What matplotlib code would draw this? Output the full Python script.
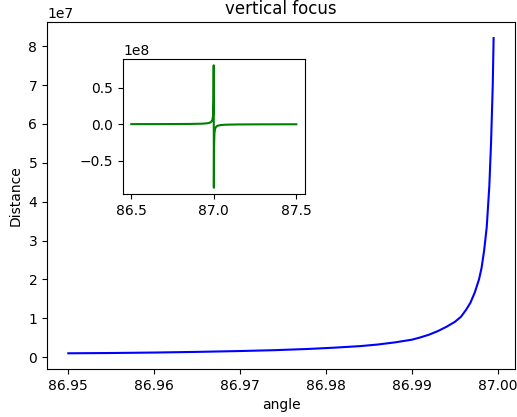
import numpy as np
import matplotlib
matplotlib.use('Agg')
import matplotlib.pyplot as plt
from matplotlib import ticker

# focus distance vs angle, close to the pole at 87 deg (distance in millions)
angle = [86.950, 86.955, 86.960, 86.965, 86.970, 86.974, 86.978, 86.981,
         86.984, 86.986, 86.988, 86.990, 86.991, 86.992, 86.993, 86.994,
         86.995, 86.9957, 86.9963, 86.9968, 86.9973, 86.9978, 86.9981,
         86.9984, 86.9987, 86.9990, 86.9992, 86.9994, 86.9995]
distance_m = [1.00, 1.07, 1.19, 1.36, 1.58, 1.80, 2.12, 2.45,
              2.85, 3.25, 3.80, 4.50, 5.10, 5.80, 6.70, 7.80,
              9.10, 10.4, 12.2, 14.0, 16.6, 20.0, 23.0,
              27.5, 33.5, 44.0, 55.0, 70.0, 82.1]

# wider sweep across the pole, for the inset
angle_wide = [86.5, 86.7, 86.85, 86.93, 86.96, 86.975, 86.985, 86.992,
              86.996, 86.9985, 86.9995, 87.0005, 87.0015, 87.004, 87.008,
              87.015, 87.025, 87.04, 87.07, 87.15, 87.3, 87.5]
distance_wide_m = [0.1, 0.17, 0.33, 0.7, 1.25, 2.0, 3.3, 6.2,
                   12.5, 33.0, 81.0, -87.5, -33.0, -12.5, -6.2,
                   -3.3, -2.0, -1.25, -0.7, -0.33, -0.17, -0.1]

x = np.array(angle)
y = np.array(distance_m) * 1e6
xw = np.array(angle_wide)
yw = np.array(distance_wide_m) * 1e6

fig = plt.figure(figsize=(5.17, 4.17), dpi=100)
ax = fig.add_axes([0.0909, 0.115, 0.905, 0.8315])
ax.plot(x, y, color='blue', lw=1.5)
ax.set_title('vertical focus')
ax.set_xlabel('angle')
ax.set_ylabel('Distance')

ins = fig.add_axes([0.238, 0.535, 0.351, 0.323])
ins.plot(xw, yw, color='green', lw=1.5)
ins.set_xticks([86.5, 87.0, 87.5])
fmt = ticker.ScalarFormatter()
fmt.set_powerlimits((8, 8))
ins.yaxis.set_major_formatter(fmt)
ins.set_yticks([-0.5e8, 0.0, 0.5e8])

fig.savefig('out.png', dpi=100)
